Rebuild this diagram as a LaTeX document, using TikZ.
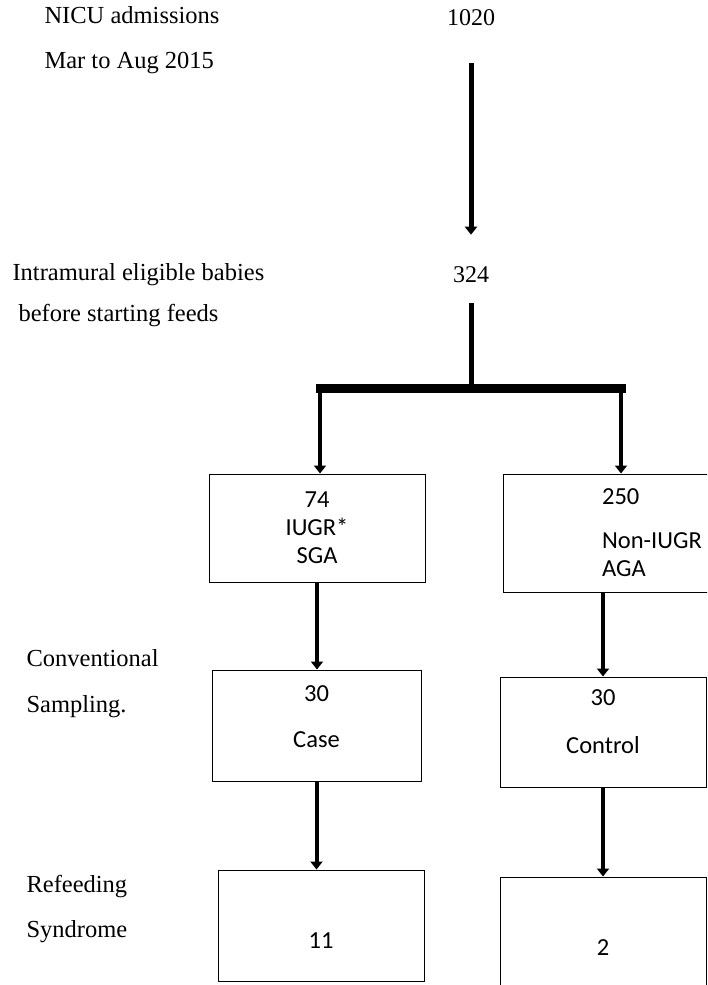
\documentclass[tikz,border=0pt]{standalone}
\usepackage{fontspec}
\setmainfont{Liberation Serif}
\newfontfamily\boxfont{Carlito}
\usetikzlibrary{arrows.meta}
\tikzset{%
  myarrow/.style={-{Triangle[width=12pt,length=8pt]}, line width=4pt},
  mybox/.style={rectangle, draw=black, line width=1pt, align=center,
    font=\boxfont\fontsize{24.5}{28}\selectfont},
  mylabel/.style={anchor=west, align=left, font=\fontsize{24.5}{29}\selectfont},
  mynum/.style={inner sep=0pt, font=\fontsize{24}{29}\selectfont}
}

\begin{document}
\begin{tikzpicture}[x=1pt, y=-1pt]
  \useasboundingbox (0,0) rectangle (707,985);
  \clip (0,0) rectangle (707,985);

  % side labels
  \node[mylabel] (nicu) at (41,40.5) {NICU admissions\\[16pt]Mar to Aug 2015};
  \node[mylabel] (intra) at (9,295.5) {Intramural eligible babies\\[12pt]\hspace{6pt}before starting feeds};
  \node[mylabel] (conv) at (23,684) {Conventional\\[17pt]Sampling.};
  \node[mylabel] (refeed) at (23,909.5) {Refeeding\\[16pt]Syndrome};

  % counts
  \node[mynum] (n1020) at (471,18) {1020};
  \node[mynum] (n324) at (471,275) {324};

  % boxes
  \node[mybox, minimum width=216pt, minimum height=108pt] (iugr) at (317,528) {74\\IUGR*\\SGA};
  \node[mybox, minimum width=298pt, minimum height=118pt, align=left] (nonIugr) at (652,533) {250\\[16pt]Non-IUGR\\AGA};
  \node[mybox, minimum width=209pt, minimum height=111pt] (case) at (316.5,725.5) {30\\[18pt]Case\\[-10pt]~};
  \node[mybox, minimum width=206pt, minimum height=110pt] (control) at (603,732) {30\\[20pt]Control\\[-8pt]~};
  \node[mybox, minimum width=206pt, minimum height=111pt] (rsCase) at (321,925.5) {~\\[18pt]11};
  \node[mybox, minimum width=206pt, minimum height=126pt] (rsControl) at (603,940) {~\\[3pt]2};

  \coordinate (split) at (471,388);
  \coordinate (splitL) at (320,388);
  \coordinate (splitR) at (621,388);

  \draw[myarrow, line width=5pt, shorten <=37pt, shorten >=32pt] (n1020) -- (n324);
  \draw[line width=5pt, shorten <=20pt] (n324) -- (split);
  \draw[line width=9pt, line cap=rect] (splitL) -- (splitR);

  \draw[myarrow] (splitL) -- (splitL |- iugr.north);
  \draw[myarrow] (splitR) -- (splitR |- nonIugr.north);
  \draw[myarrow] (iugr.south) -- (iugr.south |- case.north);
  \draw[myarrow] (control.north |- nonIugr.south) -- (control.north);
  \draw[myarrow] (case.south) -- (case.south |- rsCase.north);
  \draw[myarrow] (control.south) -- (control.south |- rsControl.north);

\end{tikzpicture}
\end{document}
